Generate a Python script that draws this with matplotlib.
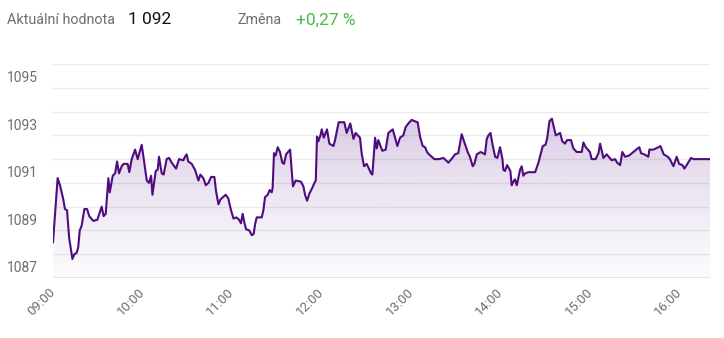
import matplotlib
matplotlib.use('Agg')
import matplotlib.pyplot as plt
import matplotlib.transforms as mtrans
import numpy as np

plt.rcParams['font.family'] = ['Roboto', 'DejaVu Sans']

# minutes since 09:00 and index value
minutes = [0, 3.1, 4.7, 6.9, 8.0, 9.4, 10.8, 13.0, 14.3, 15.8, 16.9, 17.9, 19.2, 21.0, 22.8,
           24.3, 27.0, 29.7, 32.6, 33.9, 35.3, 37.1, 38.0, 40.0, 41.6, 42.9, 44.2, 46.0, 47.3,
           50.0, 51.1, 52.7, 55.0, 56.7, 59.4, 60.8, 62.8, 64.3, 65.7, 66.6, 68.8, 70.1, 71.0,
           72.8, 74.1, 76.1, 77.7, 79.5, 82.4, 84.4, 87.3, 88.4, 89.5, 90.6, 92.9, 95.1, 97.4,
           98.7, 100.7, 102.3, 104.1, 105.9, 108.1, 109.2, 110.8, 112.1, 115.6, 117.4, 119.2,
           120.9, 122.9, 124.6, 125.9, 127.0, 128.1, 129.3, 131.5, 133.1, 134.4, 135.3, 136.4,
           139.8, 140.9, 142.0, 143.8, 145.1, 146.5, 147.1, 148.0, 149.1, 150.5, 152.0, 153.6,
           154.7, 156.1, 158.8, 160.7, 162.5, 166.1, 167.7, 168.8, 170.2, 171.7, 173.3, 175.1,
           176.0, 176.8, 177.7, 179.1, 180.0, 181.3, 183.5, 185.1, 187.8, 188.9, 191.3, 195.1,
           196.7, 199.1, 201.2, 202.7, 205.6, 206.7, 208.3, 210.1, 213.0, 213.9, 215.7, 216.8,
           217.9, 219.3, 220.6, 222.8, 224.6, 227.5, 229.1, 230.6, 232.4, 234.6, 236.2, 238.0,
           240.2, 242.0, 244.2, 245.8, 247.6, 249.2, 250.5, 251.8, 255.4, 258.6, 261.5, 264.8,
           267.5, 269.2, 271.4, 273.7, 275.0, 277.7, 279.2, 281.1, 282.2, 283.8, 286.4, 289.3,
           290.5, 291.6, 293.0, 294.4, 296.1, 297.6, 299.4, 301.0, 301.6, 302.7, 304.1, 306.3,
           307.2, 308.3, 309.4, 310.6, 312.8, 313.9, 315.0, 316.2, 318.4, 322.9, 325.1, 328.0,
           329.8, 330.9, 332.5, 334.1, 336.7, 339.6, 341.1, 342.9, 344.3, 346.9, 348.5, 350.7,
           354.1, 355.2, 356.8, 359.6, 360.7, 363.4, 365.3, 366.4, 368.6, 370.8, 374.2, 376.4,
           377.8, 379.8, 381.3, 383.1, 385.8, 388.7, 391.6, 392.7, 393.8, 396.0, 398.7, 399.4,
           402.1, 405.4, 406.8, 409.0, 411.7, 413.1, 415.5, 416.6, 417.7, 419.3, 421.5, 422.8,
           424.4, 427.3, 428.9, 440.0]
values = [1088.5, 1091.2, 1090.9, 1090.3, 1089.9, 1089.85, 1088.7, 1087.8, 1088.0, 1088.05,
          1088.3, 1089.0, 1089.2, 1089.9, 1089.9, 1089.6, 1089.4, 1089.45, 1090.0, 1089.6,
          1089.7, 1091.2, 1090.6, 1091.3, 1091.4, 1091.9, 1091.4, 1091.7, 1091.8, 1091.8,
          1091.45, 1092.0, 1092.4, 1092.0, 1092.6, 1092.0, 1091.1, 1091.0, 1091.3, 1090.5,
          1091.5, 1091.55, 1092.1, 1091.4, 1091.35, 1092.0, 1092.05, 1091.85, 1091.6, 1092.0,
          1091.95, 1092.1, 1092.2, 1091.9, 1091.8, 1091.55, 1091.1, 1091.35, 1091.2, 1090.9,
          1091.0, 1091.25, 1091.25, 1090.65, 1090.1, 1090.3, 1090.5, 1090.35, 1089.85, 1089.5,
          1089.55, 1089.45, 1089.3, 1089.7, 1089.35, 1089.05, 1089.0, 1088.8, 1088.85, 1089.25,
          1089.55, 1089.55, 1089.85, 1090.4, 1090.5, 1090.7, 1090.6, 1090.8, 1092.25, 1092.15,
          1092.5, 1092.3, 1091.85, 1091.8, 1092.2, 1092.4, 1090.85, 1091.1, 1091.05, 1090.85,
          1090.5, 1090.25, 1090.55, 1090.75, 1091.0, 1091.1, 1092.95, 1092.75, 1093.0, 1093.25,
          1092.9, 1093.25, 1092.65, 1092.55, 1092.8, 1093.55, 1093.55, 1093.1, 1093.5, 1092.85,
          1093.1, 1092.9, 1092.25, 1091.7, 1091.8, 1091.4, 1091.35, 1092.9, 1092.45, 1092.8,
          1092.55, 1092.35, 1092.4, 1093.1, 1093.25, 1092.9, 1092.55, 1092.9, 1093.0, 1093.35,
          1093.5, 1093.65, 1093.6, 1093.55, 1092.95, 1092.55, 1092.5, 1092.3, 1092.2, 1092.0,
          1092.0, 1092.05, 1091.85, 1092.05, 1092.2, 1092.25, 1093.05, 1092.8, 1092.3, 1092.1,
          1091.7, 1091.8, 1092.2, 1092.3, 1092.2, 1092.85, 1093.0, 1093.1, 1092.6, 1092.1,
          1092.05, 1092.5, 1092.0, 1091.55, 1091.5, 1091.75, 1091.5, 1090.9, 1091.05, 1091.15,
          1090.9, 1091.55, 1091.7, 1091.3, 1091.4, 1091.45, 1091.45, 1091.85, 1092.55, 1092.6,
          1092.85, 1093.6, 1093.7, 1093.0, 1093.1, 1092.75, 1092.65, 1092.8, 1092.8, 1092.45,
          1092.3, 1092.3, 1092.7, 1092.5, 1092.3, 1092.0, 1092.0, 1092.25, 1092.65, 1092.05,
          1092.2, 1091.95, 1092.0, 1091.85, 1091.75, 1092.3, 1092.1, 1092.15, 1092.3, 1092.45,
          1092.5, 1092.25, 1092.2, 1092.1, 1092.4, 1092.4, 1092.5, 1092.55, 1092.2, 1092.1,
          1092.0, 1091.7, 1091.9, 1092.1, 1091.8, 1091.75, 1091.6, 1091.75, 1092.05, 1092.0,
          1092.0]

hour_ticks = [0, 60, 120, 180, 240, 300, 360, 420]
hour_labels = ['09:00', '10:00', '11:00', '12:00', '13:00', '14:00', '15:00', '16:00']
y_labels = [1087, 1089, 1091, 1093, 1095]

header_value = '1 092'
header_change = '+0,27 %'

LINE = '#4e0c7e'
GREY = '#6e6e6e'

fig = plt.figure(figsize=(7.24, 3.38), dpi=100)
ax = fig.add_axes([53 / 724, 60 / 338, 657 / 724, 214 / 338])

x = np.array(minutes)
y = np.array(values)
ymin, ymax = 1087, 1096

# gradient fill under the line
grad = np.linspace(0, 1, 256).reshape(-1, 1)
rgba = np.zeros((256, 1, 4))
rgba[..., 0] = 0x5a / 255
rgba[..., 1] = 0x1e / 255
rgba[..., 2] = 0x8c / 255
rgba[..., 3] = 0.02 + 0.21 * grad[::-1] ** 1.2
img = ax.imshow(rgba, aspect='auto', extent=[x.min(), x.max(), ymin, 1093.8],
                origin='upper', zorder=1)
poly = ax.fill_between(x, y, ymin, color='none', lw=0)
clip = poly.get_paths()[0]
img.set_clip_path(clip, transform=ax.transData)

ax.plot(x, y, color=LINE, lw=1.5, zorder=3, solid_joinstyle='round')

ax.set_xlim(0, 440)
ax.set_ylim(ymin, ymax)
ax.set_yticks(range(ymin, ymax + 1))
ax.yaxis.grid(True, color='#ebebeb', lw=1)
ax.set_axisbelow(True)
ax.set_yticklabels([])
ax.tick_params(axis='y', length=0)
for s in ax.spines.values():
    s.set_visible(False)
ax.axhline(ymin, color='#e6e6e6', lw=1.5, zorder=0)

offset = mtrans.ScaledTranslation(0, 7 / 72, fig.dpi_scale_trans)
for v in y_labels:
    ax.text(-0.023, v, str(v), ha='right', va='center', fontsize=10, color=GREY,
            transform=ax.get_yaxis_transform() + offset)

ax.set_xticks(hour_ticks)
ax.set_xticklabels(hour_labels, rotation=45, ha='right', va='center',
                   rotation_mode='anchor', fontsize=9.5, color=GREY)
ax.tick_params(axis='x', length=0, pad=9)

fig.text(7 / 724, 1 - 20 / 338, 'Aktuální hodnota', fontsize=10.3, color=GREY,
         ha='left', va='center')
fig.text(128 / 724, 1 - 20 / 338, header_value, fontsize=12.5, color='#111111',
         ha='left', va='center')
fig.text(237 / 724, 1 - 20 / 338, 'Změna', fontsize=10.3, color=GREY,
         ha='left', va='center')
fig.text(296 / 724, 1 - 20 / 338, header_change, fontsize=12.5, color='#4cb843',
         ha='left', va='center')

fig.savefig('out.png', dpi=100)
